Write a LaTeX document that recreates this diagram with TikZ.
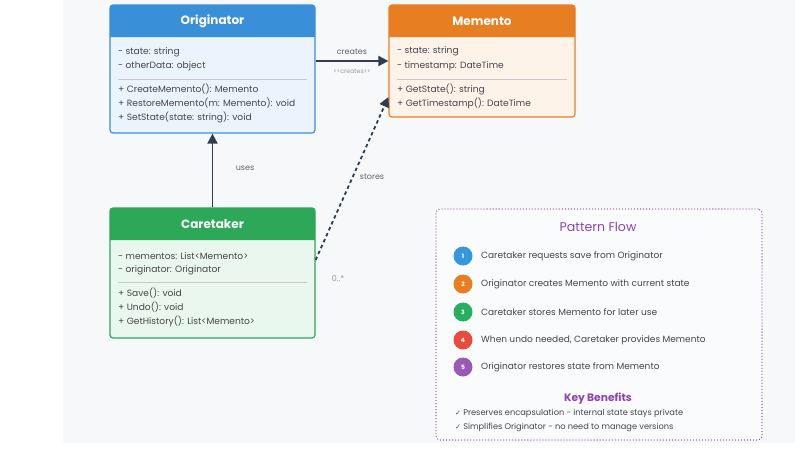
\documentclass[tikz,border=0pt]{standalone}
\usepackage{fontspec}
\setmainfont{Poppins}
\newfontfamily\symfont{DejaVu Sans}
\usetikzlibrary{arrows.meta,calc}
\definecolor{panelbg}{RGB}{247,248,250}
\definecolor{origHead}{RGB}{58,143,217}
\definecolor{origBody}{RGB}{235,244,252}
\definecolor{memHead}{RGB}{232,126,34}
\definecolor{memBody}{RGB}{253,243,233}
\definecolor{careHead}{RGB}{44,168,88}
\definecolor{careBody}{RGB}{234,247,238}
\definecolor{txt}{RGB}{70,70,75}
\definecolor{sepc}{RGB}{200,200,205}
\definecolor{arr}{RGB}{44,62,80}
\definecolor{purp}{RGB}{142,68,173}
\definecolor{cBlue}{RGB}{52,152,219}
\definecolor{cOrange}{RGB}{230,126,34}
\definecolor{cGreen}{RGB}{39,174,96}
\definecolor{cRed}{RGB}{231,76,60}
\definecolor{cPurple}{RGB}{155,89,182}
\tikzset{
  classbox/.style={draw, line width=1.2pt, rounded corners=3pt, inner sep=0pt},
  member/.style={anchor=west, font=\fontsize{9.1}{10}\selectfont, text=txt, inner sep=0pt},
  headtxt/.style={font=\fontsize{12}{13}\selectfont\bfseries, text=white, inner sep=0pt},
  sepline/.style={draw=sepc, line width=0.6pt},
  solidarrow/.style={draw=arr, line width=1.8pt, -{Triangle[length=10pt,width=10pt]}},
  dasharrow/.style={draw=arr, line width=1.8pt, dash pattern=on 3.5pt off 3pt, -{Triangle[length=10pt,width=10pt]}},
  edgelabel/.style={font=\fontsize{8}{9}\selectfont, text=txt!85, inner sep=0pt},
  stepdot/.style={circle, minimum size=19pt, inner sep=0pt, text=white, font=\fontsize{6}{7}\selectfont\bfseries},
  steptxt/.style={anchor=west, font=\fontsize{9}{10}\selectfont, text=txt, inner sep=0pt},
  benefit/.style={anchor=west, font=\fontsize{8.25}{9}\selectfont, text=txt, inner sep=0pt},
  flowbox/.style={draw=purp, line width=1.3pt, dash pattern=on 0.01pt off 3pt, line cap=round, rounded corners=4pt, fill=panelbg!60!white}
}
\begin{document}
\begin{tikzpicture}[x=1pt,y=-1pt]
\useasboundingbox (0,0) rectangle (800,448);
\fill[white] (0,0) rectangle (800,448);
\fill[panelbg] (63,0) rectangle (795,443);

% Originator
\node[classbox, draw=origHead, fill=origBody, minimum width=205pt, minimum height=128pt] (orig) at (212.5,69) {};
\fill[origHead] (110,37) [rounded corners=3pt] -- (110,5) -- (315,5) [sharp corners] -- (315,37) -- cycle;
\node[headtxt] (origT) at (212.5,21) {Originator};
\node[member] (o1) at (118,52) {- state: string};
\node[member] (o2) at (118,66) {- otherData: object};
\draw[sepline] (118,79) -- (307,79);
\node[member] (o3) at (118,89) {+ CreateMemento(): Memento};
\node[member] (o4) at (118,103) {+ RestoreMemento(m: Memento): void};
\node[member] (o5) at (118,117) {+ SetState(state: string): void};

% Memento
\node[classbox, draw=memHead, fill=memBody, minimum width=186pt, minimum height=112pt] (mem) at (482,61) {};
\fill[memHead] (389,37) [rounded corners=3pt] -- (389,5) -- (575,5) [sharp corners] -- (575,37) -- cycle;
\node[headtxt] (memT) at (482,21) {Memento};
\node[member] (m1) at (397,51) {- state: string};
\node[member] (m2) at (397,66) {- timestamp: DateTime};
\draw[sepline] (397,79) -- (567,79);
\node[member] (m3) at (397,89) {+ GetState(): string};
\node[member] (m4) at (397,103) {+ GetTimestamp(): DateTime};

% Caretaker
\node[classbox, draw=careHead, fill=careBody, minimum width=205pt, minimum height=130pt] (care) at (212.5,273) {};
\fill[careHead] (110,240) [rounded corners=3pt] -- (110,208) -- (315,208) [sharp corners] -- (315,240) -- cycle;
\node[headtxt] (careT) at (212.5,224) {Caretaker};
\node[member] (c1) at (118,256) {- mementos: List<Memento>};
\node[member] (c2) at (118,270) {- originator: Originator};
\draw[sepline] (118,282) -- (307,282);
\node[member] (c3) at (118,293) {+ Save(): void};
\node[member] (c4) at (118,307) {+ Undo(): void};
\node[member] (c5) at (118,321) {+ GetHistory(): List<Memento>};

% connectors
\draw[solidarrow] (orig.east |- mem.west) -- (mem.west);
\node[edgelabel] (lcreates) at (352,52) {creates};
\node[edgelabel, font=\fontsize{6.2}{7}\selectfont, text=txt!55] (lcreates2) at (352,71) {{<}{<}creates{>}{>}};
\draw[solidarrow] (care.north) -- (orig.south);
\node[edgelabel] (luses) at (245,168) {uses};
\draw[dasharrow] ([yshift=13pt]care.east) -- ([yshift=-36pt]mem.west);
\node[edgelabel] (lstores) at (372,177) {stores};
\node[edgelabel, text=txt!55] (lmult) at (338,279) {0..*};

% Pattern flow box
\node[flowbox, minimum width=326pt, minimum height=231pt] (flow) at (599,324.5) {};
\node[font=\fontsize{12.6}{14}\selectfont, text=purp] (flowT) at (598,227) {Pattern Flow};
\node[stepdot, fill=cBlue] (s1) at (463,256) {1};
\node[steptxt] (t1) at (481,256) {Caretaker requests save from Originator};
\node[stepdot, fill=cOrange] (s2) at (463,284) {2};
\node[steptxt] (t2) at (481,284) {Originator creates Memento with current state};
\node[stepdot, fill=cGreen] (s3) at (463,312) {3};
\node[steptxt] (t3) at (481,312) {Caretaker stores Memento for later use};
\node[stepdot, fill=cRed] (s4) at (463,340) {4};
\node[steptxt] (t4) at (481,340) {When undo needed, Caretaker provides Memento};
\node[stepdot, fill=cPurple] (s5) at (463,367) {5};
\node[steptxt] (t5) at (481,367) {Originator restores state from Memento};
\node[font=\fontsize{10.7}{12}\selectfont\bfseries, text=purp] (keyT) at (598,399) {Key Benefits};
\node[benefit] (b1) at (455,413) {{\symfont\fontsize{7}{8}\selectfont ✓} Preserves encapsulation - internal state stays private};
\node[benefit] (b2) at (455,427) {{\symfont\fontsize{7}{8}\selectfont ✓} Simplifies Originator - no need to manage versions};
\end{tikzpicture}
\end{document}
